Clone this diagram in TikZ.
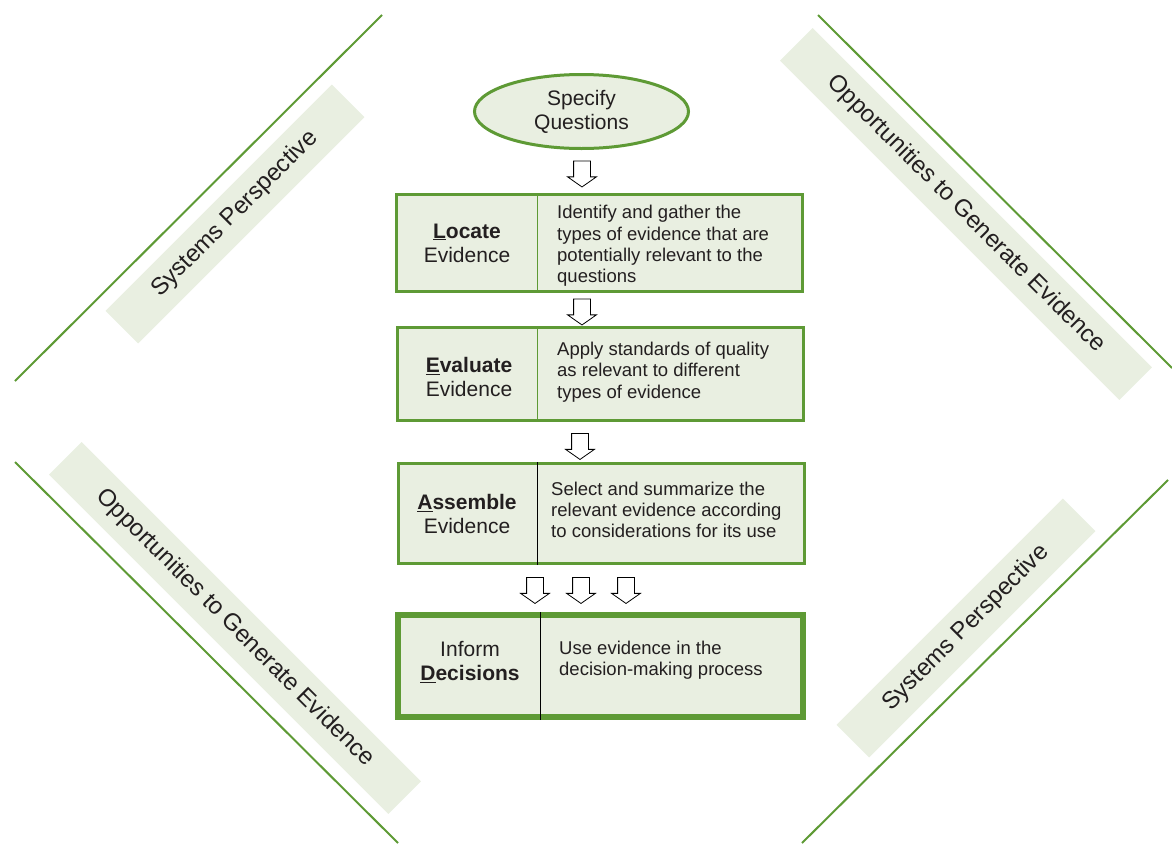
\documentclass[tikz,border=0pt]{standalone}
\usepackage{fontspec}
\setmainfont{Liberation Sans}
\usetikzlibrary{positioning}
\usetikzlibrary{shapes.geometric,shapes.arrows}

\definecolor{leaf}{HTML}{5E9A35}
\definecolor{pale}{HTML}{E9EFE1}
\definecolor{ink}{HTML}{231F20}

\begin{document}
\begin{tikzpicture}[x=1pt,y=-1pt,
    every node/.style={text=ink},
    stage/.style={draw=leaf,fill=pale,line width=3pt,minimum width=406pt,inner sep=0pt},
    title/.style={align=center,minimum width=140pt,inner sep=0pt,font=\fontsize{21}{24}\selectfont},
    blurb/.style={align=left,anchor=west,inner sep=0pt,font=\fontsize{18.5}{21.3}\selectfont},
    down/.style={single arrow,draw=black,fill=white,line width=0.8pt,shape border rotate=270,
                 inner sep=8pt,minimum width=28pt,minimum height=26pt,single arrow head extend=6pt,
                 single arrow tip angle=110},
    band/.style={fill=pale,minimum height=46pt,inner sep=0pt,font=\fontsize{24}{27}\selectfont},
    rim/.style={draw=leaf,line width=2pt}]

  \useasboundingbox (0,0) rectangle (1172,844);

  % side bands
  \node[band, minimum width=320pt, rotate=45]  (sysTL) at (235,214) {Systems Perspective};
  \node[band, minimum width=480pt, rotate=-45] (oppTR) at (966,214) {Opportunities to Generate Evidence};
  \node[band, minimum width=480pt, rotate=-45] (oppBL) at (235,628) {Opportunities to Generate Evidence};
  \node[band, minimum width=320pt, rotate=45]  (sysBR) at (966,628) {Systems Perspective};

  \draw[rim] (15,381) -- (382,15);
  \draw[rim] (818,15) -- (1172,368);
  \draw[rim] (15,462) -- (398,843);
  \draw[rim] (1168,480) -- (802,843);

  % flow
  \node[ellipse, draw=leaf, fill=pale, line width=3pt, minimum width=214pt, minimum height=74pt,
        align=center, inner sep=0pt, font=\fontsize{21}{24}\selectfont] (specify) at (581.5,111.5) {Specify\\Questions};

  \node[down] (a1) at (582,171) {};

  \node[stage, minimum height=97pt] (locate) at (599.5,243) {};
  \node[title] (locateL) at (467,243) {\textbf{\underline{L}ocate}\\Evidence};
  \node[blurb] (locateR) at (557,246) {Identify and gather the\\types of evidence that are\\potentially relevant to the\\questions};
  \draw[leaf, line width=1pt] (locateL.east |- locate.north) -- (locateL.east |- locate.south);

  \node[down] (a2) at (582,309) {};

  \node[stage, minimum height=93pt] (evaluate) at (600.5,374) {};
  \node[title] (evaluateL) at (469,377) {\textbf{\underline{E}valuate}\\Evidence};
  \node[blurb] (evaluateR) at (557,372) {Apply standards of quality\\as relevant to different\\types of evidence};
  \draw[leaf, line width=1pt] (537,0 |- evaluate.north) -- (537,0 |- evaluate.south);

  \node[down] (a3) at (580,443.5) {};

  \node[stage, minimum height=100pt] (assemble) at (601,513.5) {};
  \node[title] (assembleL) at (467,514) {\textbf{\underline{A}ssemble}\\Evidence};
  \node[blurb] (assembleR) at (551,510) {Select and summarize the\\relevant evidence according\\to considerations for its use};
  \draw[black, line width=1.3pt] (assembleL.east |- assemble.north) -- (assembleL.east |- assemble.south);

  \node[down] (a4) at (535,587.5) {};
  \node[down] (a5) at (581,587.5) {};
  \node[down] (a6) at (626,587.5) {};

  \node[stage, line width=6pt, minimum width=405pt, minimum height=102pt] (inform) at (600.5,666) {};
  \node[title] (informL) at (470,662) {Inform\\\textbf{\underline{D}ecisions}};
  \node[blurb] (informR) at (559,660) {Use evidence in the\\decision-making process};
  \draw[black, line width=1.3pt] (informL.east |- inform.north) -- (informL.east |- inform.south);
\end{tikzpicture}
\end{document}
